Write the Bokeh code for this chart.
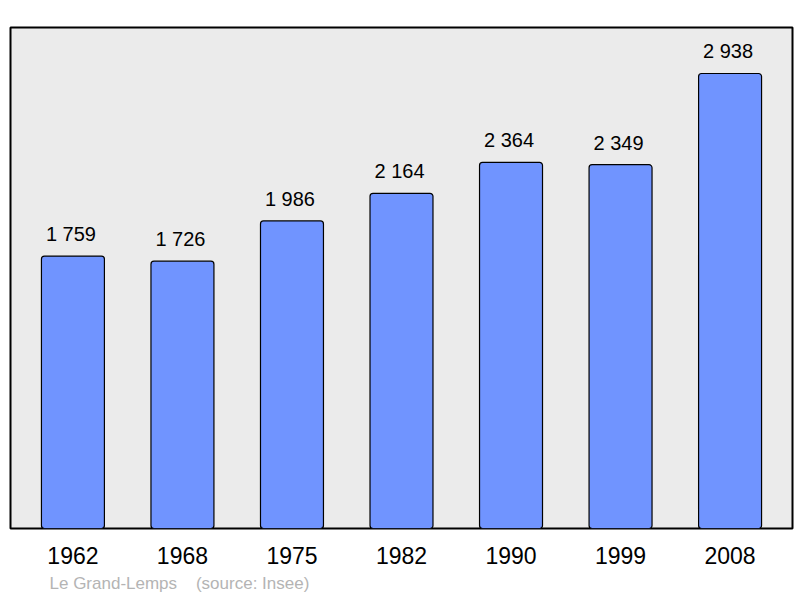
from bokeh.plotting import figure
from bokeh.models import ColumnDataSource, FactorRange, Range1d, LabelSet, Title
from bokeh.core.properties import value
from bokeh.embed import file_html
from bokeh.resources import INLINE

years = ["1962", "1968", "1975", "1982", "1990", "1999", "2008"]
population = [1759, 1726, 1986, 2164, 2364, 2349, 2938]
commune = "Le Grand-Lemps"
source_note = "(source: Insee)"

labels = [f"{v:,}".replace(",", " ") for v in population]

source = ColumnDataSource(data=dict(year=years, pop=population, label=labels))

p = figure(
    x_range=FactorRange(factors=years, range_padding=0.02),
    y_range=Range1d(0, 3235),
    frame_width=782,
    frame_height=501,
    min_border_left=10,
    min_border_right=8,
    min_border_top=27,
    min_border_bottom=0,
    toolbar_location=None,
    output_backend="svg",
)

p.background_fill_color = "#ebebeb"
p.border_fill_color = "white"
p.outline_line_color = "black"
p.outline_line_width = 2
p.grid.visible = False
p.yaxis.visible = False

p.vbar(
    x="year",
    top="pop",
    width=0.575,
    fill_color="#7094ff",
    line_color="black",
    line_width=1.2,
    border_radius=3,
    source=source,
)

value_labels = LabelSet(
    x="year",
    y="pop",
    text="label",
    source=source,
    y_offset=15,
    x_offset=-2,
    text_align="center",
    text_baseline="alphabetic",
    text_font=value("Liberation Sans"),
    text_font_size="20px",
    text_color="black",
)
p.add_layout(value_labels)

xa = p.xaxis[0]
xa.axis_line_color = None
xa.major_tick_line_color = None
xa.major_tick_in = 0
xa.major_tick_out = 0
xa.minor_tick_line_color = None
xa.major_label_standoff = 18
xa.major_label_text_font = "Liberation Sans"
xa.major_label_text_font_size = "23px"
xa.major_label_text_color = "black"

note = Title(
    text=commune + "\u00a0\u00a0\u00a0\u00a0" + source_note,
    align="left",
    offset=39,
    text_font="Liberation Sans",
    text_font_size="17px",
    text_font_style="normal",
    text_color="#b4b4b4",
    standoff=11,
)
p.add_layout(note, "below")

open("out.html", "w").write(file_html(p, INLINE))
